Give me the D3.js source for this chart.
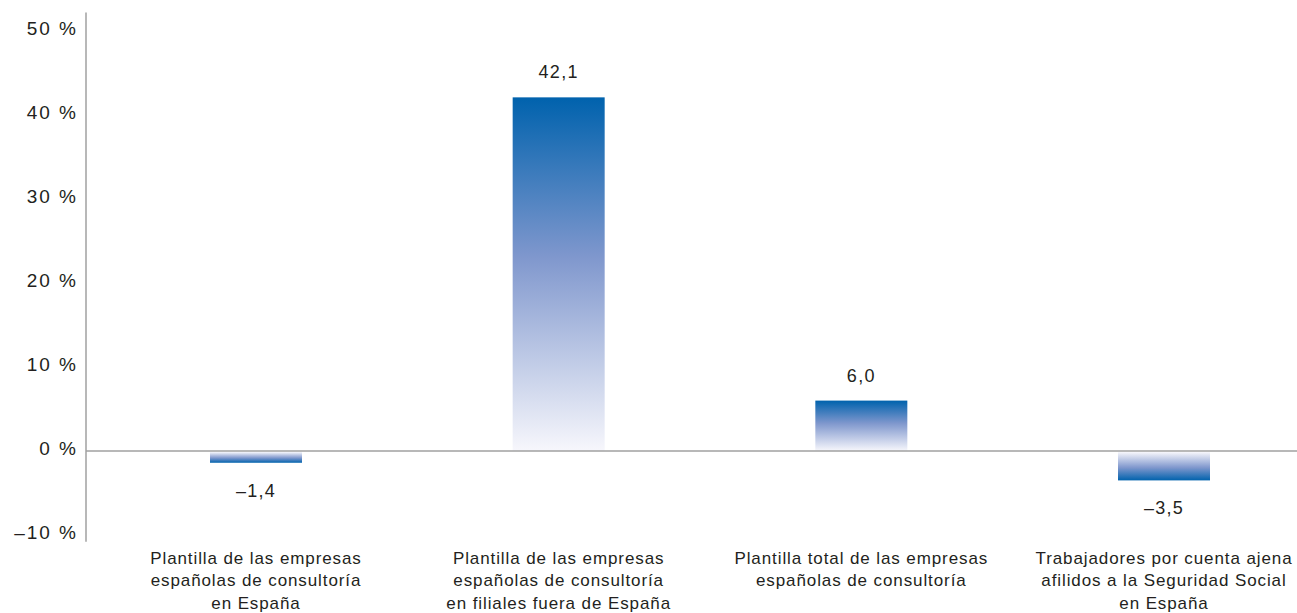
<!DOCTYPE html>
<html>
<head>
<meta charset="utf-8">
<script src="https://cdn.jsdelivr.net/npm/d3@7"></script>
<style>
  html, body { margin: 0; padding: 0; background: #fff; }
  svg { display: block; }
  text { font-family: "Liberation Sans", Arial, sans-serif; fill: #231f20; }
</style>
</head>
<body>
<svg id="chart" width="1297" height="613"></svg>
<script>
const categories = [
  ["Plantilla de las empresas", "españolas de consultoría", "en España"],
  ["Plantilla de las empresas", "españolas de consultoría", "en filiales fuera de España"],
  ["Plantilla total de las empresas", "españolas de consultoría"],
  ["Trabajadores por cuenta ajena", "afilidos a la Seguridad Social", "en España"]
];
const values = [-1.4, 42.1, 6.0, -3.5];
const valueLabels = ["–1,4", "42,1", "6,0", "–3,5"];
const yTicks = [-10, 0, 10, 20, 30, 40, 50];
const yTickLabels = ["–10 %", "0 %", "10 %", "20 %", "30 %", "40 %", "50 %"];

const svg = d3.select("#chart");
const keys = categories.map((c, i) => i);

const y = d3.scaleLinear().domain([-10, 50]).range([535, 31]);
const x = d3.scalePoint().domain(keys).range([256, 1164]);
const barW = 92;
const axisX = 86;

// gradients
const defs = svg.append("defs");
function grad(id, dir) {
  const g = defs.append("linearGradient").attr("id", id)
    .attr("x1", 0).attr("x2", 0)
    .attr("y1", dir === "up" ? 0 : 1).attr("y2", dir === "up" ? 1 : 0);
  g.append("stop").attr("offset", "0%").attr("stop-color", "#0062ad");
  g.append("stop").attr("offset", "45%").attr("stop-color", "#7f97cd");
  g.append("stop").attr("offset", "100%").attr("stop-color", "#f7f7fc");
}
grad("gPos", "up");
grad("gNeg", "down");

// y axis with labels
const yAxis = d3.axisLeft(y).tickValues(yTicks)
  .tickFormat((d, i) => yTickLabels[i]).tickSize(0).tickPadding(8);
const ga = svg.append("g").attr("transform", `translate(${axisX},0)`).call(yAxis);
ga.select(".domain").remove();
ga.selectAll("text").attr("font-size", 19).attr("dy", "0.17em")
  .attr("letter-spacing", 2)
  .attr("font-family", "'Liberation Sans', Arial, sans-serif").attr("fill", "#231f20");

svg.append("line")
  .attr("x1", axisX).attr("x2", axisX)
  .attr("y1", y(52.2)).attr("y2", y(-10.8))
  .attr("stroke", "#a0a0a0").attr("stroke-width", 1.5);

// bars
svg.selectAll("rect.bar").data(values).join("rect")
  .attr("class", "bar")
  .attr("x", (d, i) => x(i) - barW / 2)
  .attr("width", barW)
  .attr("y", d => d >= 0 ? y(d) : y(0) + 1)
  .attr("height", d => Math.abs(y(d) - y(0)) - (d >= 0 ? 0 : 1))
  .attr("fill", d => d >= 0 ? "url(#gPos)" : "url(#gNeg)");

// zero line
svg.append("line")
  .attr("x1", axisX).attr("x2", 1297)
  .attr("y1", y(0)).attr("y2", y(0))
  .attr("stroke", "#a0a0a0").attr("stroke-width", 1.5);

// value labels
svg.selectAll("text.val").data(values).join("text")
  .attr("class", "val")
  .attr("x", (d, i) => x(i))
  .attr("y", d => d >= 0 ? y(d) - 25 : y(d) + 28)
  .attr("text-anchor", "middle")
  .attr("dominant-baseline", "central")
  .attr("font-size", 18)
  .attr("letter-spacing", 1.3)
  .text((d, i) => valueLabels[i]);

// category labels
const cg = svg.selectAll("g.cat").data(categories).join("g").attr("class", "cat");
cg.each(function(lines, i) {
  d3.select(this).selectAll("text").data(lines).join("text")
    .attr("x", x(i))
    .attr("y", (l, j) => 558 + j * 22.5)
    .attr("text-anchor", "middle")
    .attr("dominant-baseline", "central")
    .attr("font-size", 17)
    .attr("letter-spacing", 0.9)
    .text(l => l);
});
</script>
</body>
</html>
